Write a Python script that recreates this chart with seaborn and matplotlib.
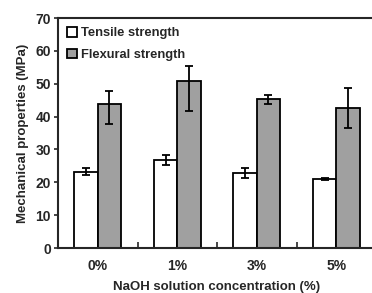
import numpy as np
import pandas as pd
import matplotlib
matplotlib.use("Agg")
import matplotlib.pyplot as plt
import seaborn as sns
from matplotlib.ticker import MultipleLocator, FixedLocator

categories = ["0%", "1%", "3%", "5%"]
series_names = ["Tensile strength", "Flexural strength"]
tensile = [23.2, 26.8, 22.9, 21.0]
tensile_err_low = [1.0, 1.6, 1.6, 0.4]
tensile_err_high = [1.0, 1.4, 1.5, 0.4]
flexural = [43.8, 50.8, 45.3, 42.5]
flexural_err_low = [6.0, 9.2, 1.5, 6.0]
flexural_err_high = [4.0, 4.6, 1.3, 6.3]
colors = ["#ffffff", "#a0a0a0"]

sns.set_style("ticks")
plt.rcParams['font.family'] = ['Liberation Sans', 'DejaVu Sans']
plt.rcParams['font.weight'] = 'bold'

df = pd.DataFrame({
    "conc": categories * 2,
    "value": tensile + flexural,
    "prop": [series_names[0]] * 4 + [series_names[1]] * 4,
})

fig = plt.figure(figsize=(3.72, 2.93), dpi=100)
ax = fig.add_axes([58/372, 1 - 248/293, (376 - 58)/372, (248 - 18)/293])

sns.barplot(data=df, x="conc", y="value", hue="prop", order=categories,
            hue_order=series_names, palette=colors, edgecolor="black",
            linewidth=1.3, width=0.59, errorbar=None, ax=ax)

errs = [(tensile, tensile_err_low, tensile_err_high),
        (flexural, flexural_err_low, flexural_err_high)]
for cont, (vals, lo, hi) in zip(ax.containers, errs):
    xs = [p.get_x() + p.get_width() / 2 for p in cont.patches]
    ax.errorbar(xs, vals, yerr=[lo, hi], fmt="none", ecolor="black",
                elinewidth=1.3, capsize=3, capthick=1.3, zorder=5)

ax.set_xlim(-0.5, 3.5)
ax.set_ylim(0, 70)
ax.yaxis.set_major_locator(MultipleLocator(10))
ax.tick_params(axis="y", direction="out", length=3, width=1.2, labelsize=10, pad=2)
ax.tick_params(axis="x", which="major", length=0, labelsize=10, pad=8)
ax.xaxis.set_minor_locator(FixedLocator([0.5, 1.5, 2.5]))
ax.tick_params(axis="x", which="minor", direction="in", length=4, width=1.2)
for lab in ax.get_xticklabels() + ax.get_yticklabels():
    lab.set_fontweight("bold")

for s in ax.spines.values():
    s.set_linewidth(1.5)
    s.set_visible(True)

ax.set_xlabel("NaOH solution concentration (%)", fontsize=9.5, fontweight="bold", labelpad=6)
ax.set_ylabel("Mechanical properties (MPa)", fontsize=9.5, fontweight="bold", labelpad=5)

leg = ax.legend(loc="upper left", frameon=False, fontsize=9.3, handlelength=0.75,
                handleheight=0.75, handletextpad=0.3, labelspacing=0.75,
                borderaxespad=0.3, borderpad=0.4)
for t in leg.get_texts():
    t.set_fontweight("bold")

fig.savefig("out.png", dpi=100)
